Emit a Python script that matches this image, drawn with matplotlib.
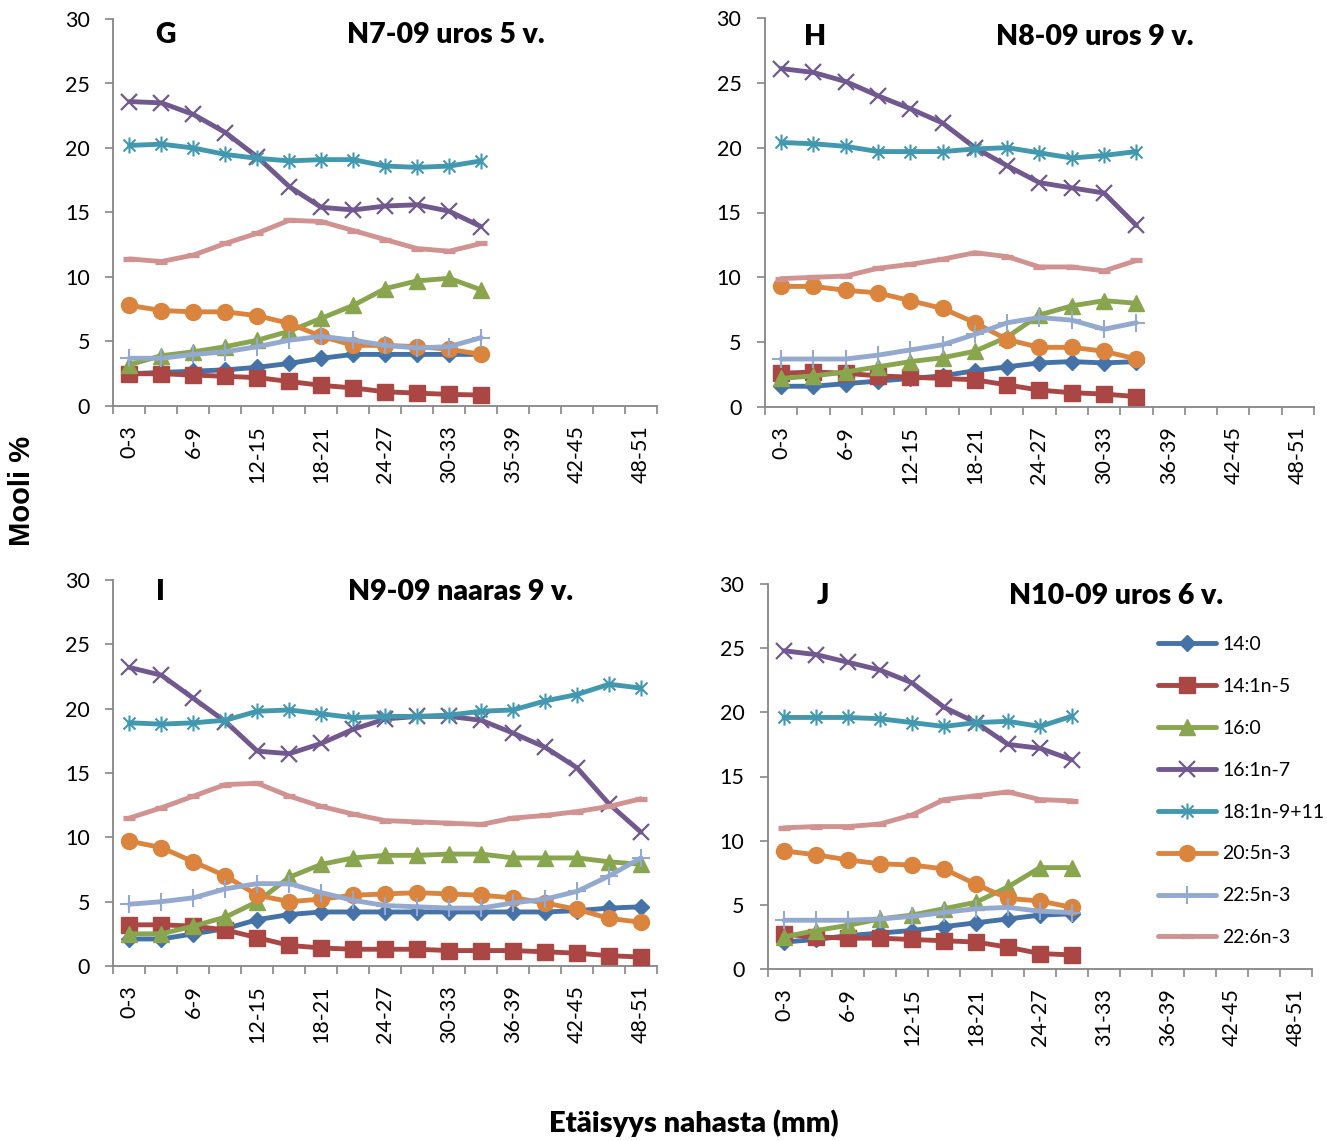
import matplotlib
matplotlib.use("Agg")
import matplotlib.pyplot as plt
from matplotlib.path import Path
import numpy as np

plt.rcParams['font.family'] = ['Lato', 'DejaVu Sans']

# ---------------- data ----------------
series_names = ["14:0", "14:1n-5", "16:0", "16:1n-7", "18:1n-9+11", "20:5n-3", "22:5n-3", "22:6n-3"]

cats_G = ["0-3", "3-6", "6-9", "9-12", "12-15", "15-18", "18-21", "21-24", "24-27", "27-30",
          "30-33", "33-35", "35-39", "39-42", "42-45", "45-48", "48-51"]
cats_H = ["0-3", "3-6", "6-9", "9-12", "12-15", "15-18", "18-21", "21-24", "24-27", "27-30",
          "30-33", "33-36", "36-39", "39-42", "42-45", "45-48", "48-51"]
cats_I = list(cats_H)
cats_J = ["0-3", "3-6", "6-9", "9-12", "12-15", "15-18", "18-21", "21-24", "24-27", "27-31",
          "31-33", "33-36", "36-39", "39-42", "42-45", "45-48", "48-51"]

g_140 = [2.5, 2.6, 2.7, 2.8, 3.0, 3.3, 3.7, 4.0, 4.0, 4.0, 4.0, 4.0]
g_141 = [2.5, 2.5, 2.4, 2.3, 2.2, 1.9, 1.6, 1.4, 1.1, 1.0, 0.9, 0.85]
g_160 = [3.2, 3.9, 4.2, 4.6, 5.1, 5.8, 6.8, 7.8, 9.1, 9.7, 9.9, 9.0]
g_161 = [23.6, 23.5, 22.6, 21.2, 19.3, 17.0, 15.4, 15.2, 15.5, 15.6, 15.1, 13.9]
g_181 = [20.2, 20.3, 20.0, 19.5, 19.2, 19.0, 19.1, 19.1, 18.6, 18.5, 18.6, 19.0]
g_205 = [7.8, 7.4, 7.3, 7.3, 7.0, 6.4, 5.4, 4.7, 4.7, 4.6, 4.4, 4.0]
g_225 = [3.7, 3.7, 4.0, 4.2, 4.6, 5.1, 5.4, 5.1, 4.7, 4.5, 4.6, 5.3]
g_226 = [11.4, 11.2, 11.7, 12.6, 13.4, 14.4, 14.3, 13.6, 12.9, 12.2, 12.0, 12.6]

h_140 = [1.6, 1.6, 1.8, 2.0, 2.2, 2.4, 2.8, 3.1, 3.4, 3.5, 3.4, 3.5]
h_141 = [2.6, 2.7, 2.6, 2.4, 2.3, 2.2, 2.1, 1.7, 1.3, 1.1, 1.0, 0.8]
h_160 = [2.2, 2.4, 2.7, 3.1, 3.5, 3.8, 4.3, 5.4, 7.1, 7.8, 8.2, 8.0]
h_161 = [26.1, 25.8, 25.1, 24.0, 23.0, 21.9, 20.0, 18.6, 17.3, 16.9, 16.5, 14.0]
h_181 = [20.4, 20.3, 20.1, 19.7, 19.7, 19.7, 19.9, 20.0, 19.6, 19.2, 19.4, 19.7]
h_205 = [9.3, 9.3, 9.0, 8.8, 8.2, 7.6, 6.5, 5.2, 4.6, 4.6, 4.3, 3.7]
h_225 = [3.7, 3.7, 3.7, 4.0, 4.4, 4.8, 5.6, 6.5, 6.9, 6.7, 6.0, 6.5]
h_226 = [9.9, 10.0, 10.1, 10.7, 11.0, 11.4, 11.9, 11.6, 10.8, 10.8, 10.5, 11.3]

i_140 = [2.1, 2.1, 2.5, 2.9, 3.6, 4.0, 4.2, 4.2, 4.2, 4.2, 4.2, 4.2, 4.2, 4.2, 4.3, 4.5, 4.6]
i_141 = [3.2, 3.2, 3.1, 2.8, 2.2, 1.6, 1.4, 1.3, 1.3, 1.3, 1.2, 1.2, 1.2, 1.1, 1.0, 0.8, 0.7]
i_160 = [2.5, 2.5, 3.1, 3.8, 5.0, 6.9, 7.9, 8.4, 8.6, 8.6, 8.7, 8.7, 8.4, 8.4, 8.4, 8.1, 7.9]
i_161 = [23.2, 22.6, 20.8, 19.0, 16.7, 16.5, 17.3, 18.4, 19.2, 19.4, 19.4, 19.1, 18.1, 17.0, 15.4, 12.6, 10.4]
i_181 = [18.9, 18.8, 18.9, 19.1, 19.8, 19.9, 19.6, 19.3, 19.4, 19.4, 19.5, 19.8, 19.9, 20.6, 21.1, 21.9, 21.6]
i_205 = [9.7, 9.2, 8.1, 7.0, 5.5, 5.0, 5.2, 5.5, 5.6, 5.7, 5.6, 5.5, 5.3, 4.9, 4.4, 3.7, 3.4]
i_225 = [4.8, 5.0, 5.3, 6.0, 6.4, 6.4, 5.7, 5.1, 4.7, 4.6, 4.5, 4.5, 4.9, 5.2, 5.8, 7.0, 8.4]
i_226 = [11.5, 12.3, 13.2, 14.1, 14.2, 13.2, 12.4, 11.8, 11.3, 11.2, 11.1, 11.0, 11.5, 11.7, 12.0, 12.4, 13.0]

j_140 = [2.1, 2.3, 2.6, 2.8, 3.0, 3.3, 3.6, 3.9, 4.2, 4.3]
j_141 = [2.7, 2.5, 2.4, 2.4, 2.3, 2.2, 2.1, 1.7, 1.2, 1.1]
j_160 = [2.5, 3.0, 3.4, 3.9, 4.2, 4.7, 5.2, 6.4, 7.9, 7.9]
j_161 = [24.8, 24.5, 23.9, 23.3, 22.3, 20.4, 19.2, 17.5, 17.2, 16.3]
j_181 = [19.6, 19.6, 19.6, 19.5, 19.2, 18.9, 19.2, 19.3, 18.9, 19.7]
j_205 = [9.2, 8.9, 8.5, 8.2, 8.1, 7.8, 6.6, 5.5, 5.3, 4.8]
j_225 = [3.8, 3.8, 3.8, 3.9, 4.1, 4.4, 4.7, 4.8, 4.5, 4.4]
j_226 = [11.0, 11.1, 11.1, 11.3, 12.0, 13.2, 13.5, 13.8, 13.2, 13.1]

panel_letters = ["G", "H", "I", "J"]
panel_titles = ["N7-09 uros 5 v.", "N8-09 uros 9 v.", "N9-09 naaras 9 v.", "N10-09 uros 6 v."]
y_label = "Mooli %"
x_label = "Etäisyys nahasta (mm)"

# ---------------- styles ----------------
W, H = 1327, 1141
colors = ['#4572A7', '#AA4643', '#89A54E', '#71588F', '#4198AF', '#DB843D', '#93A9CF', '#D19392']
asterisk = Path([(0, -1), (0, 1), (-0.75, -0.75), (0.75, 0.75), (-0.75, 0.75), (0.75, -0.75)],
                [Path.MOVETO, Path.LINETO, Path.MOVETO, Path.LINETO, Path.MOVETO, Path.LINETO])
mstyles = [
    dict(marker='D', ms=8.5, mew=1),
    dict(marker='s', ms=11, mew=1),
    dict(marker='^', ms=11.5, mew=1),
    dict(marker='x', ms=11.5, mew=1.6),
    dict(marker=asterisk, ms=11.5, mew=1.5),
    dict(marker='o', ms=11.5, mew=1),
    dict(marker='+', ms=12.5, mew=1.5),
    dict(marker='_', ms=9, mew=3.8),
]

fig = plt.figure(figsize=(W / 100, H / 100), dpi=100)


def px_axes(left, right, top, bottom):
    return fig.add_axes([left / W, 1 - bottom / H, (right - left) / W, (bottom - top) / H])


panels = [
    (px_axes(113.5, 657, 19, 406), cats_G, [g_140, g_141, g_160, g_161, g_181, g_205, g_225, g_226]),
    (px_axes(765, 1314, 18, 407), cats_H, [h_140, h_141, h_160, h_161, h_181, h_205, h_225, h_226]),
    (px_axes(113.5, 657, 580, 966), cats_I, [i_140, i_141, i_160, i_161, i_181, i_205, i_225, i_226]),
    (px_axes(768, 1312, 584, 969), cats_J, [j_140, j_141, j_160, j_161, j_181, j_205, j_225, j_226]),
]

spine_col = '#868686'
for ax, cats, data in panels:
    n = len(cats)
    for k, vals in enumerate(data):
        x = np.arange(len(vals))
        st = mstyles[k]
        ax.plot(x, vals, color=colors[k], lw=3.5, solid_capstyle='round', solid_joinstyle='round',
                marker=st['marker'], ms=st['ms'], mew=st['mew'], mec=colors[k], mfc=colors[k],
                label=series_names[k], zorder=2 + k)
    ax.set_xlim(-0.5, n - 0.5)
    ax.set_ylim(0, 30)
    for s in ['top', 'right']:
        ax.spines[s].set_visible(False)
    for s in ['left', 'bottom']:
        ax.spines[s].set_color(spine_col)
        ax.spines[s].set_linewidth(1.3)
    ax.set_yticks(np.arange(0, 31, 5))
    ax.tick_params(axis='y', direction='out', length=6, width=1.2, color=spine_col,
                   labelsize=15.5, pad=11, labelcolor='black')
    ax.set_xticks(np.arange(-0.5, n, 1.0))
    ax.set_xticklabels([])
    ax.tick_params(axis='x', which='major', direction='out', length=6, width=1.2, color=spine_col)
    ax.set_xticks(np.arange(0, n, 2), minor=True)
    ax.set_xticklabels([cats[i] for i in range(0, n, 2)], minor=True, rotation=90)
    ax.tick_params(axis='x', which='minor', length=0, labelsize=15.5, pad=14, labelcolor='black')
    ax.set_facecolor('none')


def ftext(xp, yp, s, **kw):
    fig.text(xp / W, 1 - yp / H, s, ha='center', va='center', **kw)


letter_pos = [(166, 35), (815, 37), (160, 592), (823, 596)]
title_pos = [(446, 35), (1095, 37), (461, 592), (1116, 596)]
for k in range(4):
    ftext(*letter_pos[k], panel_letters[k], fontsize=20.5, fontweight='heavy')
    ftext(*title_pos[k], panel_titles[k], fontsize=20.5, fontweight='heavy')

ftext(22, 491, y_label, fontsize=21, fontweight='bold', rotation=90, family=['Liberation Sans'])
ftext(694, 1123, x_label, fontsize=21, fontweight='heavy')

axJ = panels[3][0]
handles, labels = axJ.get_legend_handles_labels()
fig.legend(handles, labels, loc='upper left', bbox_to_anchor=(1158 / W, 1 - 636 / H),
           frameon=False, fontsize=14, handlelength=3.0, handletextpad=0.3,
           labelspacing=1.28, borderpad=0, borderaxespad=0, numpoints=1)

fig.savefig('out.png', dpi=100)
